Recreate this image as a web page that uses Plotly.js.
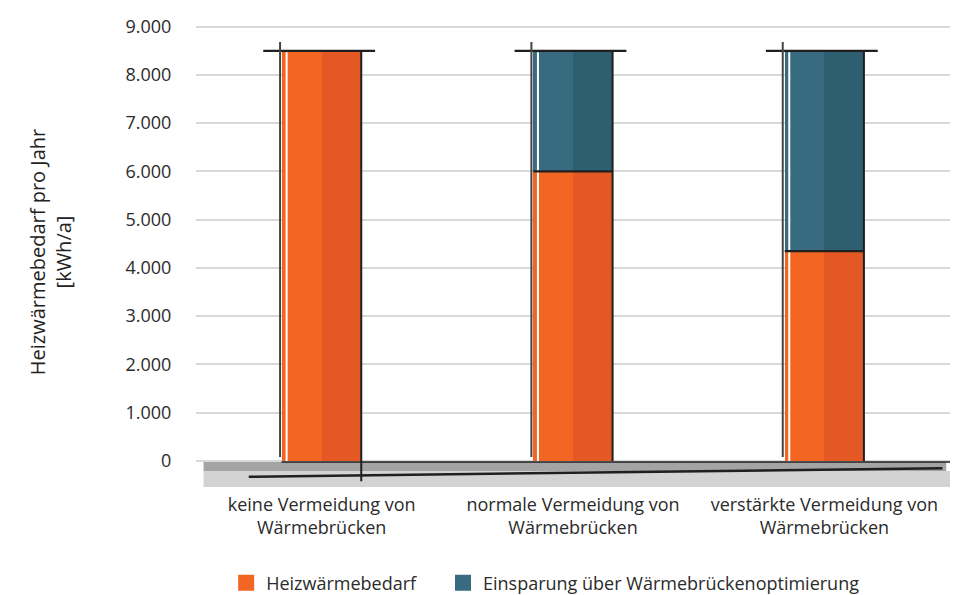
<!DOCTYPE html>
<html>
<head>
<meta charset="utf-8">
<script src="https://cdn.plot.ly/plotly-3.0.1.min.js"></script>
<style>
  html, body { margin: 0; padding: 0; background: #fff; }
  #chart { width: 954px; height: 595px; }
</style>
</head>
<body>
<div id="chart"></div>
<script>
// Heating demand per year for three levels of thermal-bridge avoidance
const categories = [
  'keine Vermeidung von<br>Wärmebrücken',
  'normale Vermeidung von<br>Wärmebrücken',
  'verstärkte Vermeidung von<br>Wärmebrücken'
];
const heizwaermebedarf = [8500, 6000, 4350];   // kWh/a
const einsparung = [0, 2500, 4150];            // kWh/a saved by optimisation
const seriesNames = ['Heizwärmebedarf', 'Einsparung über Wärmebrückenoptimierung'];
const yTicks = [0, 1000, 2000, 3000, 4000, 5000, 6000, 7000, 8000, 9000];

const BAR_W = 0.315;
const ORANGE = '#F26522', ORANGE_DARK = '#E35825';
const TEAL = '#386B80', TEAL_DARK = '#2E5F71';
const INK = '#1f1f1f';
const TEXT = '#2b2b2b';

const idx = categories.map((_, i) => i);
const totals = idx.map(i => heizwaermebedarf[i] + einsparung[i]);

const traces = [
  { type: 'bar', name: seriesNames[0], x: idx, y: heizwaermebedarf, base: idx.map(() => 0),
    width: BAR_W, marker: { color: ORANGE, line: { width: 0 } }, showlegend: false },
  { type: 'bar', name: seriesNames[0], x: idx, y: heizwaermebedarf, base: idx.map(() => 0),
    width: BAR_W / 2, offset: 0, marker: { color: ORANGE_DARK, line: { width: 0 } },
    showlegend: false },
  { type: 'bar', name: seriesNames[1], x: idx, y: einsparung, base: heizwaermebedarf,
    width: BAR_W, marker: { color: TEAL, line: { width: 0 } }, showlegend: false },
  { type: 'bar', name: seriesNames[1], x: idx, y: einsparung, base: heizwaermebedarf,
    width: BAR_W / 2, offset: 0, marker: { color: TEAL_DARK, line: { width: 0 } },
    showlegend: false },
  // legend keys with large square swatches, one legend box each
  { type: 'scatter', mode: 'markers', name: seriesNames[0], x: [null], y: [null],
    legend: 'legend', marker: { symbol: 'square', size: 16, color: ORANGE } },
  { type: 'scatter', mode: 'markers', name: seriesNames[1], x: [null], y: [null],
    legend: 'legend2', marker: { symbol: 'square', size: 16, color: TEAL } }
];

// Ground band below the zero line
const shapes = [
  { type: 'rect', layer: 'below', xref: 'paper', yref: 'y', x0: 0.01, x1: 1, y0: -540, y1: -210,
    fillcolor: '#d3d3d3', line: { width: 0 } },
  { type: 'rect', layer: 'below', xref: 'paper', yref: 'y', x0: 0.01, x1: 0.995, y0: -210, y1: 0,
    fillcolor: '#a4a4a4', line: { width: 0 } },
  // hand-drawn floor strokes
  { type: 'line', xref: 'x', yref: 'y', x0: -0.16, x1: 2.5, y0: -20, y1: -20,
    line: { color: INK, width: 1.5 } },
  { type: 'line', xref: 'x', yref: 'y', x0: -0.29, x1: 2.47, y0: -330, y1: -150,
    line: { color: INK, width: 2.5 } }
];

// Sketched outlines around every bar
idx.forEach(i => {
  const left = i - BAR_W / 2, right = i + BAR_W / 2;
  const top = totals[i];
  shapes.push(
    { type: 'line', x0: left - 0.075, x1: right + 0.055, y0: top, y1: top,
      line: { color: INK, width: 2.2 } },
    { type: 'line', x0: left - 0.008, x1: left - 0.008, y0: top + 180, y1: 80,
      line: { color: '#444', width: 2 } },
    { type: 'line', x0: left + 0.018, x1: left + 0.018, y0: top - 30, y1: 0,
      line: { color: '#ffffff', width: 2 } },
    { type: 'line', x0: right, x1: right, y0: top, y1: i === 0 ? -420 : 0,
      line: { color: INK, width: 2 } }
  );
  if (einsparung[i] > 0) {
    shapes.push({ type: 'line', x0: left, x1: right, y0: heizwaermebedarf[i], y1: heizwaermebedarf[i],
      line: { color: INK, width: 2.2 } });
  }
});

const legendBase = {
  orientation: 'h', xref: 'paper', xanchor: 'left',
  yref: 'container', y: 0.02, yanchor: 'middle',
  font: { size: 18, color: TEXT }, itemwidth: 30
};

const layout = {
  width: 954, height: 595,
  margin: { l: 196, r: 4, t: 17, b: 108 },
  paper_bgcolor: '#ffffff', plot_bgcolor: '#ffffff',
  font: { family: '"Open Sans", sans-serif', size: 18, color: TEXT },
  separators: ',.',
  barmode: 'overlay',
  bargap: 0,
  showlegend: true,
  legend: Object.assign({}, legendBase, { x: 0.04 }),
  legend2: Object.assign({}, legendBase, { x: 0.3276 }),
  xaxis: {
    range: [-0.5, 2.5], automargin: false,
    tickmode: 'array', tickvals: idx, ticktext: categories,
    showgrid: false, zeroline: false, showline: false,
    ticks: 'outside', ticklen: 1, tickcolor: 'rgba(0,0,0,0)',
    tickfont: { size: 18, color: TEXT }
  },
  yaxis: {
    range: [-540, 9200], automargin: false,
    tickmode: 'array', tickvals: yTicks, tickformat: ',.0f',
    showgrid: true, gridcolor: '#d9d9d9', gridwidth: 2,
    zeroline: false, showline: false,
    ticks: 'outside', ticklen: 20, tickcolor: 'rgba(0,0,0,0)',
    tickfont: { size: 18, color: TEXT },
    title: { text: 'Heizwärmebedarf pro Jahr<br>[kWh/a]', standoff: 48,
             font: { size: 20, color: '#222' } }
  },
  shapes: shapes
};

Plotly.newPlot('chart', traces, layout, { displayModeBar: false, staticPlot: true });
</script>
</body>
</html>
